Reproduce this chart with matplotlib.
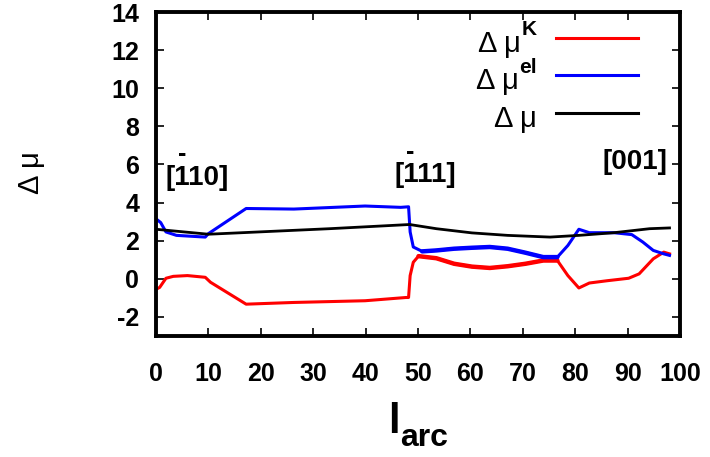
import matplotlib
matplotlib.use("Agg")
import matplotlib.pyplot as plt
from matplotlib.lines import Line2D

plt.rcParams['font.family'] = ['Liberation Sans', 'DejaVu Sans']

# ---- data ----
blue_x = [0, 0.9, 1.9, 3.9, 9.4, 10.0, 17.2, 26.3, 39.9, 46.7, 48.2, 48.5, 49.1, 50.8, 53.5,
          56.9, 60.3, 63.7, 67.1, 70.5, 73.9, 76.6, 78.6, 80.7, 82.7, 87.4, 90.8, 92.9, 94.9,
          96.9, 98.0]
blue_y = [3.15, 2.95, 2.46, 2.28, 2.19, 2.37, 3.69, 3.66, 3.82, 3.75, 3.78, 2.46, 1.67, 1.44, 1.49,
          1.58, 1.63, 1.67, 1.58, 1.37, 1.14, 1.14, 1.75, 2.60, 2.42, 2.42, 2.32, 1.93, 1.49,
          1.31, 1.23]

red_x = [0, 0.7, 1.9, 3.3, 6.0, 9.4, 10.4, 17.2, 26.3, 39.9, 47.7, 48.2, 48.5, 49.1, 50.1,
         53.5, 56.9, 60.3, 63.7, 67.1, 70.5, 73.9, 76.6, 78.6, 80.7, 82.7, 86.1, 90.2, 92.2,
         94.9, 96.9, 98.0]
red_y = [-0.55, -0.45, 0.03, 0.13, 0.17, 0.08, -0.18, -1.33, -1.24, -1.15, -0.98, -0.98, 0.17,
         0.87, 1.19, 1.08, 0.79, 0.64, 0.57, 0.66, 0.79, 0.96, 0.96, 0.17, -0.48, -0.22, -0.10,
         0.03, 0.26, 1.05, 1.40, 1.31]

black_x = [0, 10.0, 19.6, 33.1, 48.4, 53.5, 60.3, 67.1, 75.2, 80.7, 87.4, 94.2, 98.0]
black_y = [2.60, 2.34, 2.46, 2.63, 2.85, 2.63, 2.41, 2.28, 2.19, 2.28, 2.42, 2.63, 2.67]

# range where the two component curves are noisy (drawn a little thicker)
noisy_range = [50.0, 77.0]

legend_base = ['Δ μ', 'Δ μ', 'Δ μ']
legend_sup = ['K', 'el', '']
legend_colors = ['#ff0000', '#0000ff', '#000000']

xticks = [0, 10, 20, 30, 40, 50, 60, 70, 80, 90, 100]
yticks = [-2, 0, 2, 4, 6, 8, 10, 12, 14]

dir_labels = ['[110]', '[111]', '[001]']
dir_x = [7.9, 51.4, 91.4]
dir_y = [5.3, 5.45, 6.15]
bar_x = [5.0, 48.6]
bar_y = [6.55, 6.68]

# ---- figure ----
W, H = 710, 457
fig = plt.figure(figsize=(W / 100, H / 100), dpi=100)
renderer = fig.canvas.get_renderer()
L, R, T, B = 156, 680, 12, 336
ax = fig.add_axes([L / W, 1 - B / H, (R - L) / W, (B - T) / H])


def fx(px):
    return px / W


def fy(py):
    return 1 - py / H


def sub(xs, ys, lo, hi):
    pts = [(a, b) for a, b in zip(xs, ys) if lo <= a <= hi]
    return [p[0] for p in pts], [p[1] for p in pts]


ax.plot(red_x, red_y, color=legend_colors[0], lw=2.2, solid_joinstyle='round')
rx, ry = sub(red_x, red_y, *noisy_range)
ax.plot(rx, ry, color=legend_colors[0], lw=3.2, solid_capstyle='round')
ax.plot(blue_x, blue_y, color=legend_colors[1], lw=2.2, solid_joinstyle='round')
bx, by = sub(blue_x, blue_y, *noisy_range)
ax.plot(bx, by, color=legend_colors[1], lw=3.2, solid_capstyle='round')
ax.plot(black_x, black_y, color=legend_colors[2], lw=2.0)

ax.set_xlim(0, 100)
ax.set_ylim(-3, 14)
ax.set_xticks(xticks)
ax.set_yticks(yticks)
ax.set_xticklabels([str(v) for v in xticks], fontsize=18, fontweight='bold')
ax.set_yticklabels([str(v) for v in yticks], fontsize=18, fontweight='bold')
ax.tick_params(direction='in', length=6, width=1.2, top=True, right=True)
ax.tick_params(axis='x', pad=19)
ax.tick_params(axis='y', pad=12)
for s in ax.spines.values():
    s.set_linewidth(2.8)

# y label
fig.text(fx(31), fy(173), 'Δ μ', rotation=90, ha='center', va='center', fontsize=21)

# x label: bold l with bold subscript "arc"
t_l = fig.text(0, 0, 'l', fontsize=30, fontweight='bold', ha='left', va='baseline')
t_s = fig.text(0, 0, 'arc', fontsize=23, fontweight='bold', ha='left', va='baseline')
wl = t_l.get_window_extent(renderer).width
ws = t_s.get_window_extent(renderer).width
x0 = (L + R) / 2 - (wl + ws) / 2
t_l.set_position((fx(x0), fy(433)))
t_s.set_position((fx(x0 + wl), fy(446)))

# manual legend: right-aligned labels, sample line at the right
rows_px = [37.7, 75.3, 113.3]
for base, sup, col, ly in zip(legend_base, legend_sup, legend_colors, rows_px):
    fig.add_artist(Line2D([fx(556), fx(638)], [fy(ly), fy(ly)], color=col, lw=2.2))
    right = 537
    if sup:
        ts = fig.text(fx(right), fy(ly - 2.5), sup, ha='right', va='baseline',
                      fontsize=15, fontweight='bold')
        right = ts.get_window_extent(renderer).x0 - 1
    fig.text(fx(right), fy(ly + 14), base, ha='right', va='baseline', fontsize=21)

for lab, xx, yy in zip(dir_labels, dir_x, dir_y):
    ax.text(xx, yy, lab, ha='center', va='center', fontsize=20, fontweight='bold')
for xx, yy in zip(bar_x, bar_y):
    ax.text(xx, yy, '-', ha='center', va='center', fontsize=18, fontweight='bold')

fig.savefig('out.png', dpi=100)
